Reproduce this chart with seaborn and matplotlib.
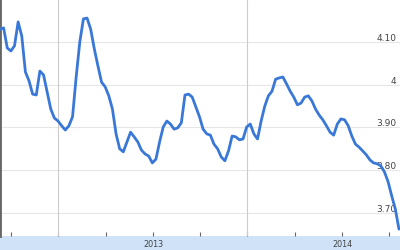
import numpy as np
import pandas as pd
import matplotlib
matplotlib.use("Agg")
import matplotlib.pyplot as plt
import matplotlib.dates as mdates
from matplotlib.patches import Rectangle
import seaborn as sns

# ---- data (weekly readings) ----
start_date = "2012-03-11"
values = [
    4.130, 4.133, 4.086, 4.079, 4.091, 4.147, 4.114, 4.030, 4.009, 3.978,
    3.976, 4.032, 4.023, 3.983, 3.943, 3.922, 3.915, 3.904, 3.894, 3.904,
    3.925, 4.018, 4.100, 4.154, 4.156, 4.130, 4.084, 4.044, 4.006, 3.995,
    3.974, 3.943, 3.885, 3.850, 3.843, 3.866, 3.889, 3.878, 3.866, 3.847,
    3.838, 3.833, 3.817, 3.826, 3.866, 3.901, 3.915, 3.908, 3.896, 3.899,
    3.911, 3.976, 3.978, 3.971, 3.948, 3.925, 3.896, 3.885, 3.882, 3.861,
    3.850, 3.831, 3.822, 3.845, 3.880, 3.878, 3.871, 3.873, 3.901, 3.908,
    3.885, 3.873, 3.915, 3.950, 3.974, 3.985, 4.013, 4.016, 4.018, 4.002,
    3.985, 3.971, 3.953, 3.957, 3.971, 3.974, 3.962, 3.943, 3.929, 3.918,
    3.904, 3.889, 3.882, 3.908, 3.920, 3.918, 3.904, 3.880, 3.861, 3.854,
    3.845, 3.836, 3.824, 3.817, 3.815, 3.810, 3.796, 3.773, 3.740, 3.709,
    3.662,
]
dates = pd.date_range(start_date, periods=len(values), freq="7D")
y_ticks = [3.70, 3.80, 3.90, 4.00, 4.10, 4.20]
y_tick_labels = ["3.70", "3.80", "3.90", "4", "4.10", ""]
x_start, x_end = "2012-03-11", "2014-04-22"
v_grid_dates = ["2012-07-01", "2013-07-01"]

df = pd.DataFrame({"date": dates, "value": values})

sns.set_style("white")
band_color = "#cfe2f8"
fig = plt.figure(figsize=(4.0, 2.51), dpi=100, facecolor="white")
fig.patches.append(Rectangle((0, 0), 1, 14 / 251, transform=fig.transFigure,
                             facecolor=band_color, edgecolor="none", zorder=-5))
ax = fig.add_axes([0, 14 / 251, 1, 237 / 251])
ax.set_facecolor("white")
ax.set_zorder(2)

sns.lineplot(data=df, x="date", y="value", ax=ax, color="#3a78d8",
             linewidth=2.0, zorder=3)

ax.set_xlim(pd.Timestamp(x_start), pd.Timestamp(x_end))
ax.set_ylim(3.646, 4.2006)

ax.set_yticks(y_ticks)
ax.set_yticklabels(y_tick_labels)
ax.tick_params(axis="y", which="both", left=False, right=True, labelleft=False,
               labelright=True, direction="in", length=0, pad=-2.5,
               labelsize=6.5, labelcolor="#444444")
for lab in ax.get_yticklabels():
    lab.set_horizontalalignment("right")
    lab.set_verticalalignment("bottom")
ax.grid(axis="y", color="#e6e6e6", linewidth=0.8, zorder=0)

ax.xaxis.set_major_locator(mdates.YearLocator())
ax.xaxis.set_major_formatter(mdates.DateFormatter("%Y"))
ax.xaxis.set_minor_locator(mdates.MonthLocator(bymonth=[1, 4, 7, 10]))
ax.tick_params(axis="x", which="both", bottom=True, top=False, labelbottom=True,
               direction="in", length=3, width=0.8,
               color="#666666", labelsize=5.8, labelcolor="#444444", pad=2.5)
for d in v_grid_dates:
    ax.axvline(pd.Timestamp(d), color="#cccccc", linewidth=0.8, zorder=1)

ax.set_xlabel("")
ax.set_ylabel("")
for s in ["top", "right", "bottom"]:
    ax.spines[s].set_visible(False)
ax.spines["left"].set_color("#666666")
ax.spines["left"].set_linewidth(2)

fig.savefig("out.png", dpi=100, facecolor="white")
